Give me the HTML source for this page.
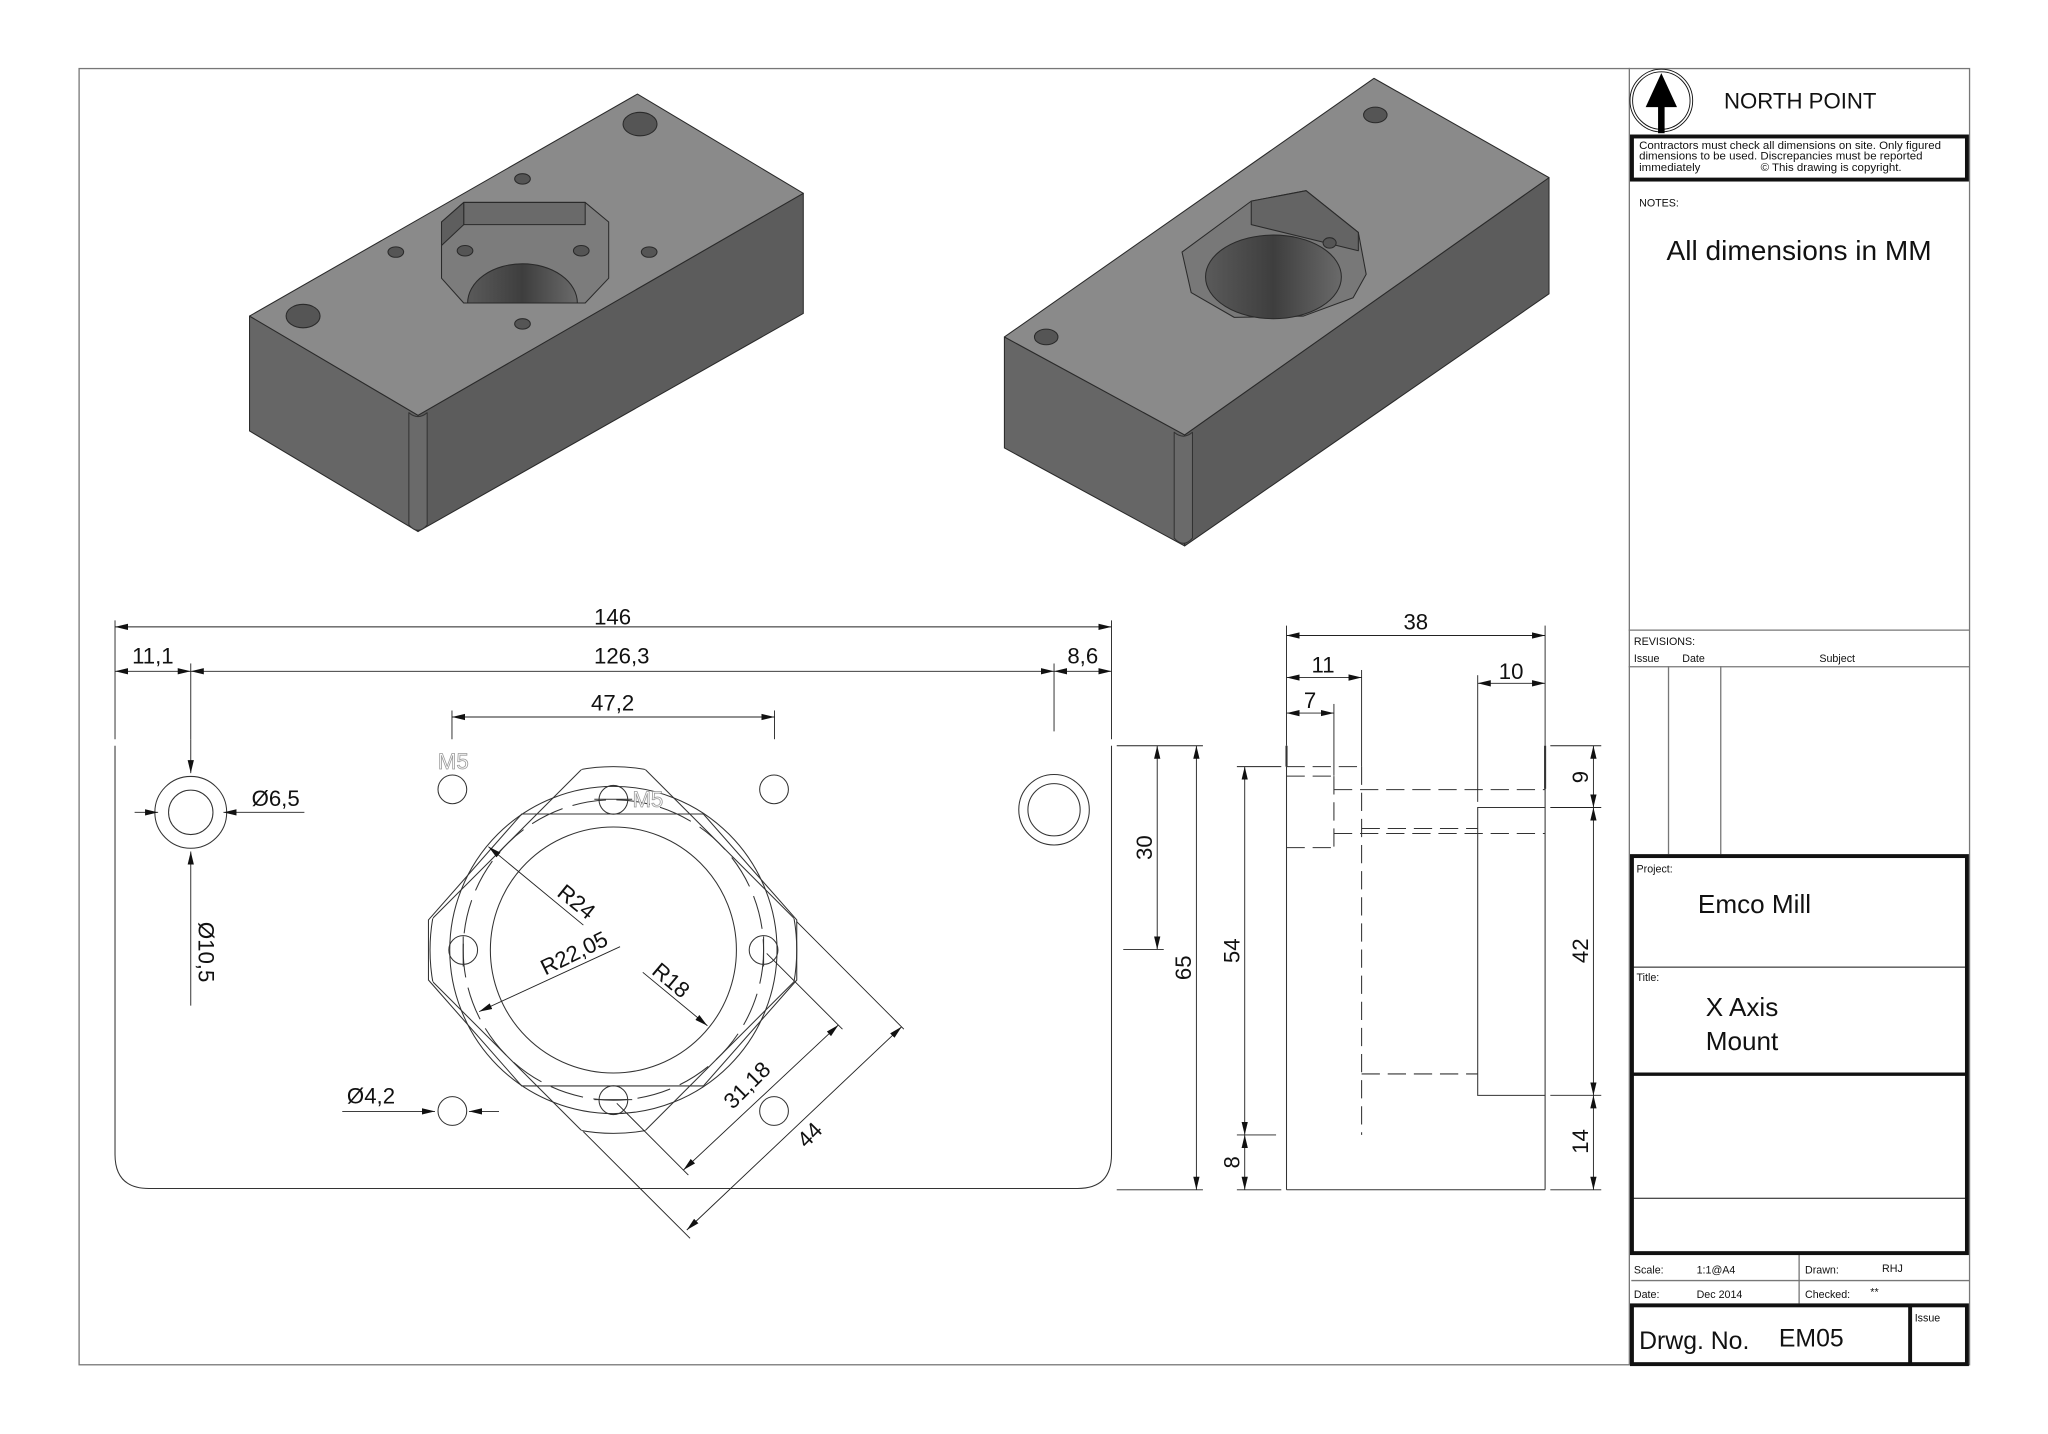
<!DOCTYPE html>
<html><head><meta charset="utf-8"><style>
html,body{margin:0;padding:0;background:#fff;}
svg{display:block;}
text{font-family:"Liberation Sans",sans-serif;fill:#111;}
</style></head><body>
<svg width="2048" height="1434" viewBox="0 0 1568 1098" xmlns="http://www.w3.org/2000/svg">
<defs>
<marker id="a" markerUnits="userSpaceOnUse" markerWidth="11" markerHeight="6" refX="10" refY="3" orient="auto-start-reverse"><path d="M0,0.6 L10,3 L0,5.4 z" fill="#111"/></marker>
<clipPath id="circ"><circle cx="469.6" cy="727.4" r="140.4"/></clipPath>
<clipPath id="sq"><rect x="354.6" y="612.4" width="230" height="230" transform="rotate(45 469.6 727.4)"/></clipPath>
<linearGradient id="bore" x1="0" x2="1" y1="0" y2="0"><stop offset="0" stop-color="#5a5a5a"/><stop offset="0.5" stop-color="#3e3e3e"/><stop offset="1" stop-color="#6a6a6a"/></linearGradient>
</defs>
<rect x="0" y="0" width="1568" height="1098" fill="#fff"/>
<rect x="60.5" y="52.5" width="1447.5" height="992.5" fill="none" stroke="#777" stroke-width="1"/>

<!-- ===== Left iso block ===== -->
<g stroke="#2a2a2a" stroke-width="0.8" stroke-linejoin="round">
<polygon points="191,242 320,318 320,407 191,330" fill="#666"/>
<polygon points="320,318 615,148 615,240 320,407" fill="#5c5c5c"/>
<polygon points="191,242 488,72 615,148 320,318" fill="#8a8a8a"/>
<path d="M313,316 Q320,322 327,316 L327,402 Q320,410 313,402 Z" fill="#6a6a6a" stroke="#333"/>
<polygon points="355,155 448,155 466,170 466,213 448,232 355,232 338,213 338,170" fill="#7c7c7c"/>
<polygon points="355,155 448,155 448,172 355,172" fill="#6a6a6a"/>
<polygon points="338,170 355,155 355,172 338,188" fill="#5e5e5e"/>
<path d="M358,232 A42,30 0 0 1 442,232 Z" fill="url(#bore)"/>
<ellipse cx="490" cy="95" rx="13" ry="9" fill="#555"/>
<ellipse cx="232" cy="242" rx="13" ry="9" fill="#555"/>
<ellipse cx="400" cy="137" rx="6" ry="4" fill="#555"/>
<ellipse cx="303" cy="193" rx="6" ry="4" fill="#555"/>
<ellipse cx="497" cy="193" rx="6" ry="4" fill="#555"/>
<ellipse cx="400" cy="248" rx="6" ry="4" fill="#555"/>
<ellipse cx="356" cy="192" rx="6" ry="4" fill="#555"/>
<ellipse cx="445" cy="192" rx="6" ry="4" fill="#555"/>
</g>

<!-- ===== Right iso block ===== -->
<g stroke="#2a2a2a" stroke-width="0.8" stroke-linejoin="round">
<polygon points="769,258 907,333 907,418 769,343" fill="#666"/>
<polygon points="907,333 1186,136 1186,225 907,418" fill="#5c5c5c"/>
<polygon points="769,258 1052,60 1186,136 907,333" fill="#8a8a8a"/>
<path d="M899,331 Q906,337 913,331 L913,412 Q906,420 899,412 Z" fill="#6a6a6a" stroke="#333"/>
<polygon points="958,154 1000,146 1040,178 1046,210 1036,228 998,242 945,243 912,224 905,193" fill="#787878"/>
<polygon points="958,154 1000,146 1040,178 1040,192 958,172" fill="#646464"/>
<ellipse cx="975" cy="212" rx="52" ry="32" fill="url(#bore)"/>
<ellipse cx="1053" cy="88" rx="9" ry="6" fill="#555"/>
<ellipse cx="801" cy="258" rx="9" ry="6" fill="#555"/>
<ellipse cx="1018" cy="186" rx="5" ry="4" fill="#555"/>
</g>

<!-- ===== Front view ===== -->
<g fill="none" stroke="#333" stroke-width="0.8">
<path d="M88,571 L88,884 Q88,910 114,910 L825,910 Q851,910 851,884 L851,571"/>
<circle cx="146" cy="622" r="17"/><circle cx="146" cy="622" r="27.5"/>
<circle cx="807" cy="620" r="20"/><circle cx="807" cy="620" r="27"/>
<circle cx="346.3" cy="604.4" r="11"/><circle cx="592.6" cy="604.4" r="11"/>
<circle cx="592.6" cy="850.7" r="11"/><circle cx="346.3" cy="850.7" r="11"/>
<polygon points="399.4,623.3 538.5,623.3 610,704.4 610,750.4 538.5,831.5 399.4,831.5 328,750.4 328,704.4"/>
<g clip-path="url(#circ)"><rect x="354.6" y="612.4" width="230" height="230" transform="rotate(45 469.6 727.4)"/></g>
<g clip-path="url(#sq)"><circle cx="469.6" cy="727.4" r="140.4"/></g>
<circle cx="469.6" cy="727.4" r="125.3"/>
<circle cx="469.6" cy="727.4" r="94.2"/>
<circle cx="469.6" cy="727.4" r="115" stroke-dasharray="26 8"/>
<circle cx="469.6" cy="612.4" r="11"/><circle cx="469.6" cy="842.4" r="11"/>
<circle cx="354.6" cy="727.4" r="11"/><circle cx="584.6" cy="727.4" r="11"/>
<line x1="455" y1="612" x2="484" y2="612"/><line x1="455" y1="842" x2="484" y2="842"/>
<line x1="354.6" y1="717" x2="354.6" y2="740"/><line x1="584.6" y1="717" x2="584.6" y2="740"/>
</g>
<g fill="none" stroke="#222" stroke-width="0.7">
<line x1="88" y1="475" x2="88" y2="566"/><line x1="851" y1="475" x2="851" y2="566"/>
<line x1="146" y1="508" x2="146" y2="566"/><line x1="807" y1="508" x2="807" y2="560"/>
<line x1="346" y1="544" x2="346" y2="566"/><line x1="593" y1="544" x2="593" y2="566"/>
<line x1="88" y1="480" x2="851" y2="480" marker-start="url(#a)" marker-end="url(#a)"/>
<line x1="88" y1="514" x2="146" y2="514" marker-start="url(#a)" marker-end="url(#a)"/>
<line x1="146" y1="514" x2="807" y2="514" marker-start="url(#a)" marker-end="url(#a)"/>
<line x1="807" y1="514" x2="851" y2="514" marker-start="url(#a)" marker-end="url(#a)"/>
<line x1="346" y1="549" x2="593" y2="549" marker-start="url(#a)" marker-end="url(#a)"/>
<line x1="103" y1="622" x2="121" y2="622" marker-end="url(#a)"/>
<line x1="233" y1="622" x2="171" y2="622" marker-end="url(#a)"/>
<line x1="146" y1="566" x2="146" y2="592" marker-end="url(#a)"/>
<line x1="146" y1="770" x2="146" y2="652" marker-end="url(#a)"/>
<line x1="262" y1="851" x2="333" y2="851" marker-end="url(#a)"/>
<line x1="382" y1="851" x2="359" y2="851" marker-end="url(#a)"/>
<line x1="446.6" y1="708.3" x2="373.9" y2="648.3" marker-end="url(#a)"/>
<line x1="474.7" y1="724.9" x2="366.8" y2="774.6" marker-end="url(#a)"/>
<line x1="492.1" y1="744.5" x2="541.6" y2="785.4" marker-end="url(#a)"/>
<line x1="472.2" y1="844.8" x2="527" y2="899.7"/>
<line x1="587" y1="730" x2="645" y2="788"/>
<line x1="641.9" y1="784.8" x2="523.2" y2="895.9" marker-start="url(#a)" marker-end="url(#a)"/>
<line x1="446.6" y1="866.5" x2="528.3" y2="948.2"/>
<line x1="610" y1="705.7" x2="692" y2="788"/>
<line x1="690.4" y1="786.1" x2="525.8" y2="941.8" marker-start="url(#a)" marker-end="url(#a)"/>
<line x1="855" y1="571" x2="921" y2="571"/><line x1="860" y1="727" x2="891" y2="727"/><line x1="855" y1="911" x2="921" y2="911"/>
<line x1="886" y1="571" x2="886" y2="727" marker-start="url(#a)" marker-end="url(#a)"/>
<line x1="916" y1="571" x2="916" y2="911" marker-start="url(#a)" marker-end="url(#a)"/>
</g>
<g font-size="17">
<text x="469" y="478" text-anchor="middle">146</text>
<text x="117" y="508" text-anchor="middle">11,1</text>
<text x="476" y="508" text-anchor="middle">126,3</text>
<text x="829" y="508" text-anchor="middle">8,6</text>
<text x="469" y="544" text-anchor="middle">47,2</text>
<text x="211" y="617" text-anchor="middle">Ø6,5</text>
<text x="284" y="845" text-anchor="middle">Ø4,2</text>
<text transform="translate(152,729) rotate(90)" text-anchor="middle">Ø10,5</text>
<text x="347" y="589" text-anchor="middle" style="fill:#fff" stroke="#999" stroke-width="0.6">M5</text>
<text x="496" y="618" text-anchor="middle" style="fill:#fff" stroke="#999" stroke-width="0.6">M5</text>
<text transform="translate(437.7,695) rotate(39)" text-anchor="middle">R24</text>
<text transform="translate(442,735) rotate(-26)" text-anchor="middle">R22,05</text>
<text transform="translate(510,755) rotate(40)" text-anchor="middle">R18</text>
<text transform="translate(576,835) rotate(-45)" text-anchor="middle">31,18</text>
<text transform="translate(624,873) rotate(-45)" text-anchor="middle">44</text>
<text transform="translate(882,649) rotate(-90)" text-anchor="middle">30</text>
<text transform="translate(912,741) rotate(-90)" text-anchor="middle">65</text>
</g>

<!-- ===== Side view ===== -->
<g fill="none" stroke="#333" stroke-width="0.8">
<line x1="985" y1="587" x2="985" y2="911"/>
<line x1="985" y1="571" x2="985" y2="587" stroke-width="1.6"/>
<line x1="985" y1="911" x2="1183" y2="911"/>
<line x1="1183" y1="571" x2="1183" y2="911"/>
<line x1="1183" y1="571" x2="1183" y2="604" stroke-width="1.6"/>
<polyline points="1183,618.3 1131.4,618.3 1131.4,838.7 1183,838.7"/>
</g>
<g fill="none" stroke="#333" stroke-width="0.8" stroke-dasharray="14 6">
<line x1="985" y1="587" x2="1042.5" y2="587"/>
<line x1="1042.5" y1="587" x2="1042.5" y2="869"/>
<line x1="985" y1="594.3" x2="1021.3" y2="594.3"/>
<line x1="1021.3" y1="594.3" x2="1021.3" y2="649"/>
<line x1="985" y1="649" x2="1021.3" y2="649"/>
<line x1="1021.3" y1="604.6" x2="1183" y2="604.6"/>
<line x1="1021.3" y1="638.2" x2="1183" y2="638.2"/>
<line x1="1042.5" y1="634.4" x2="1131.4" y2="634.4"/>
<line x1="1042.5" y1="822.3" x2="1131.4" y2="822.3"/>
</g>
<g fill="none" stroke="#222" stroke-width="0.7">
<line x1="985" y1="479" x2="985" y2="571"/><line x1="1183" y1="479" x2="1183" y2="571"/>
<line x1="1042.5" y1="513" x2="1042.5" y2="587"/><line x1="1021.3" y1="539" x2="1021.3" y2="594"/>
<line x1="1131.4" y1="517" x2="1131.4" y2="614"/>
<line x1="985" y1="486.6" x2="1183" y2="486.6" marker-start="url(#a)" marker-end="url(#a)"/>
<line x1="985" y1="518.8" x2="1042.5" y2="518.8" marker-start="url(#a)" marker-end="url(#a)"/>
<line x1="1131.4" y1="523.2" x2="1183" y2="523.2" marker-start="url(#a)" marker-end="url(#a)"/>
<line x1="985" y1="546" x2="1021.3" y2="546" marker-start="url(#a)" marker-end="url(#a)"/>
<line x1="947" y1="587" x2="981" y2="587"/><line x1="947" y1="869" x2="977" y2="869"/><line x1="947" y1="911" x2="981" y2="911"/>
<line x1="953" y1="587" x2="953" y2="869" marker-start="url(#a)" marker-end="url(#a)"/>
<line x1="953" y1="869" x2="953" y2="911" marker-start="url(#a)" marker-end="url(#a)"/>
<line x1="1187" y1="571" x2="1226" y2="571"/><line x1="1187" y1="618.3" x2="1226" y2="618.3"/>
<line x1="1187" y1="838.7" x2="1226" y2="838.7"/><line x1="1187" y1="911" x2="1226" y2="911"/>
<line x1="1220" y1="571" x2="1220" y2="618.3" marker-start="url(#a)" marker-end="url(#a)"/>
<line x1="1220" y1="618.3" x2="1220" y2="838.7" marker-start="url(#a)" marker-end="url(#a)"/>
<line x1="1220" y1="838.7" x2="1220" y2="911" marker-start="url(#a)" marker-end="url(#a)"/>
</g>
<g font-size="17">
<text x="1084" y="482" text-anchor="middle">38</text>
<text x="1013" y="515" text-anchor="middle">11</text>
<text x="1157" y="520" text-anchor="middle">10</text>
<text x="1003" y="542" text-anchor="middle">7</text>
<text transform="translate(949,728) rotate(-90)" text-anchor="middle">54</text>
<text transform="translate(949,890) rotate(-90)" text-anchor="middle">8</text>
<text transform="translate(1216,595) rotate(-90)" text-anchor="middle">9</text>
<text transform="translate(1216,728) rotate(-90)" text-anchor="middle">42</text>
<text transform="translate(1216,874) rotate(-90)" text-anchor="middle">14</text>
</g>

<!-- ===== Title block ===== -->
<g fill="none" stroke="#777" stroke-width="1">
<line x1="1247.5" y1="52" x2="1247.5" y2="1045"/>
<line x1="1247" y1="482.5" x2="1508" y2="482.5"/>
<line x1="1247" y1="510.5" x2="1508" y2="510.5"/>
<line x1="1277.5" y1="510" x2="1277.5" y2="654"/>
<line x1="1317.5" y1="510" x2="1317.5" y2="654"/>
<line x1="1249" y1="980.5" x2="1508" y2="980.5"/>
<line x1="1377.5" y1="960" x2="1377.5" y2="998"/>
</g>
<g fill="none" stroke="#111">
<circle cx="1272" cy="77" r="24" stroke-width="0.7"/>
<circle cx="1272" cy="77" r="22" stroke-width="0.7"/>
<rect x="1249.5" y="104.5" width="256.5" height="33" stroke-width="3"/>
<rect x="1249.5" y="655.5" width="256.5" height="304" stroke-width="3"/>
<line x1="1249" y1="740.5" x2="1506" y2="740.5" stroke-width="0.8"/>
<line x1="1249" y1="822.5" x2="1506" y2="822.5" stroke-width="2.5"/>
<line x1="1249" y1="917.5" x2="1506" y2="917.5" stroke-width="0.8"/>
<rect x="1249.5" y="999.5" width="256.5" height="45" stroke-width="3"/>
<line x1="1462.5" y1="999" x2="1462.5" y2="1045" stroke-width="3"/>
</g>
<rect x="1269.5" y="72" width="5" height="30" fill="#000"/>
<polygon points="1260,82 1272,56 1284,82" fill="#000"/>
<text x="1320" y="83" font-size="17">NORTH POINT</text>
<g font-size="8.2">
<text x="1255" y="114" font-size="8.8">Contractors must check all dimensions on site. Only figured</text>
<text x="1255" y="122" font-size="8.8">dimensions to be used. Discrepancies must be reported</text>
<text x="1255" y="131" font-size="8.8">immediately</text>
<text x="1348" y="131" font-size="8.8">© This drawing is copyright.</text>
<text x="1255" y="158">NOTES:</text>
<text x="1251" y="494">REVISIONS:</text>
<text x="1251" y="507">Issue</text><text x="1288" y="507">Date</text><text x="1393" y="507">Subject</text>
<text x="1253" y="668">Project:</text>
<text x="1253" y="751">Title:</text>
<text x="1251" y="975">Scale:</text><text x="1299" y="975">1:1@A4</text>
<text x="1382" y="975">Drawn:</text><text x="1441" y="974">RHJ</text>
<text x="1251" y="994">Date:</text><text x="1299" y="994">Dec 2014</text>
<text x="1382" y="994">Checked:</text><text x="1432" y="992">**</text>
<text x="1466" y="1012">Issue</text>
</g>
<text x="1276" y="199" font-size="21.5">All dimensions in MM</text>
<text x="1300" y="699" font-size="20">Emco Mill</text>
<text x="1306" y="778" font-size="20">X Axis</text>
<text x="1306" y="804" font-size="20">Mount</text>
<text x="1255" y="1033" font-size="19">Drwg. No.</text>
<text x="1362" y="1031" font-size="19">EM05</text>
</svg>
</body></html>
